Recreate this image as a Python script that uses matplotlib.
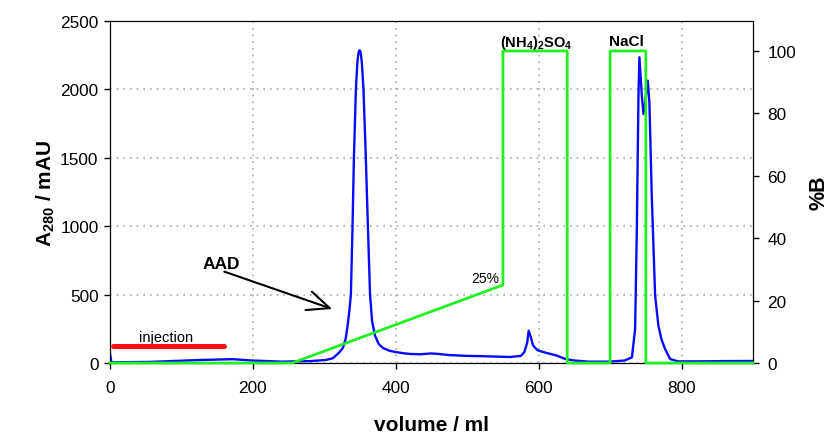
import matplotlib
matplotlib.use("Agg")
import matplotlib.pyplot as plt

plt.rcParams['font.family'] = ['Liberation Sans', 'DejaVu Sans']
plt.rcParams['mathtext.fontset'] = 'custom'
plt.rcParams['mathtext.rm'] = 'Liberation Sans'
plt.rcParams['mathtext.bf'] = 'Liberation Sans:bold'

# UV absorbance trace (volume in ml, A280 in mAU)
volume = [0, 2, 20, 56, 90, 126, 172, 200, 241, 280, 302, 312, 321, 326, 330,
          333, 335, 337.2, 339.5, 341.4, 344.2, 345.5, 346.5, 347.5, 348.5,
          349.5, 350.5, 351.5, 352.5, 353.5, 354.8, 358.1, 361, 364, 367,
          371, 376, 382, 391, 400, 410, 420,
          435, 450, 460, 475, 500, 520, 540, 560, 575, 580, 584, 586, 589,
          592, 597, 600, 610, 625, 637, 650, 670, 698, 720, 730.5, 735,
          737.4, 739.7, 741, 744.4, 746.7, 749, 752.7, 755, 758.3, 763,
          767.6, 772, 777, 784, 795, 820, 860, 900]
absorb = [70, 5, 6, 8, 15, 22, 28, 18, 10, 14, 22, 35, 78, 110, 180,
          290, 380, 500, 1000, 1500, 2000, 2130, 2205, 2255, 2280,
          2286, 2275, 2245, 2195, 2115, 2000, 1500, 1000, 500, 300,
          200, 140, 110, 90, 80, 72, 66,
          64, 70, 66, 58, 52, 50, 47, 44, 52, 80, 150, 236, 190,
          130, 100, 90, 75, 55, 30, 18, 10, 10, 18, 41, 248,
          980, 1954, 2235, 1954, 1820, 1900, 2064, 1900, 1223, 492,
          273, 170, 102, 29, 12, 12, 14, 15]

# Buffer B gradient (%B)
grad_volume = [0, 255, 550, 550, 640, 640, 700, 700, 750, 750, 900]
grad_b = [0, 0, 25, 100, 100, 0, 0, 100, 100, 0, 0]

# Sample injection window
inj_volume = [4, 159]
inj_level = [124, 124]

x_ticks = [0, 200, 400, 600, 800]
y_ticks = [0, 500, 1000, 1500, 2000, 2500]
b_ticks = [0, 20, 40, 60, 80, 100]

fig = plt.figure(figsize=(8.35, 4.35), dpi=100)
ax = fig.add_axes([0.1317, 0.1632, 0.7701, 0.7862])

ax.plot(volume, absorb, color='#0a0aff', lw=1.7, zorder=3)
ax.plot(inj_volume, inj_level, color='#ff1010', lw=3.6, solid_capstyle='round', zorder=4)

ax.set_xlim(0, 900)
ax.set_ylim(0, 2500)
ax.set_xticks(x_ticks)
ax.set_yticks(y_ticks)
ax.grid(True, color='#a8a8a8', linestyle=(0, (1, 3)), lw=1.2)
ax.tick_params(direction='out', length=4.3, labelsize=12.4, width=1)
ax.tick_params(axis='y', pad=4)
ax.tick_params(axis='x', pad=8)
ax.set_xlabel('volume / ml', fontsize=15, fontweight='bold', labelpad=14)
ax.set_ylabel(r'A$_\mathbf{280}$ / mAU', fontsize=15, fontweight='bold', labelpad=2)

ax2 = ax.twinx()
ax2.plot(grad_volume, grad_b, color='#22f022', lw=2.0, clip_on=False, zorder=3)
ax2.set_ylim(0, 109.6)
ax2.set_yticks(b_ticks)
ax2.tick_params(direction='out', length=4.3, labelsize=12.4, width=1, pad=6)
ax2.set_ylabel('%B', fontsize=15.5, fontweight='bold', labelpad=9)

ax.text(596, 2346, r'(NH$_\mathbf{4}$)$_\mathbf{2}$SO$_\mathbf{4}$', ha='center', va='center',
        fontsize=10.5, fontweight='bold')
ax.text(723, 2354, 'NaCl', ha='center', va='center', fontsize=11, fontweight='bold')
ax.text(525, 621, '25%', ha='center', va='center', fontsize=10)
ax.text(156, 724, 'AAD', ha='center', va='center', fontsize=12.5, fontweight='bold')
ax.text(78, 190, 'injection', ha='center', va='center', fontsize=10.5)
ax.annotate('', xy=(311, 395), xytext=(160, 668),
            arrowprops=dict(arrowstyle='->,head_length=1.6,head_width=0.7',
                            color='black', lw=1.5, shrinkA=0, shrinkB=0))

fig.savefig('out.png', dpi=100)
